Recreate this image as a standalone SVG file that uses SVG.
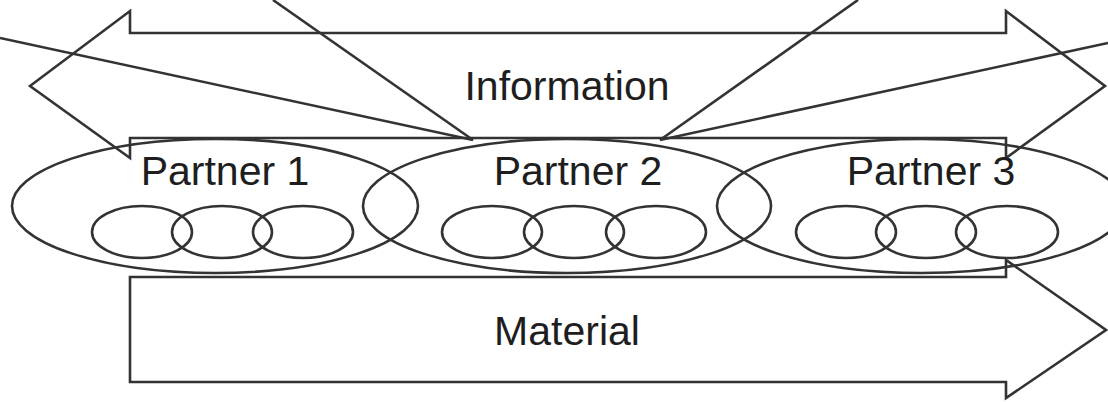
<svg xmlns="http://www.w3.org/2000/svg" width="1108" height="402" viewBox="0 0 1108 402">
<style>
.s{fill:none;stroke:#333;stroke-width:2.6;stroke-linejoin:miter}
.t{font-family:"Liberation Sans",Arial,sans-serif;font-size:41px;fill:#1e1e1e;text-anchor:middle}
</style>
<rect width="1108" height="402" fill="#fff"/>
<g id="information">
<polygon class="s" points="30,86 130,11 130,33 1006,33 1006,11 1105,86 1006,158 1006,138 130,138 130,158"/>
<text class="t" x="567" y="100">Information</text>
</g>
<g id="material">
<polygon class="s" points="130,277 1006,277 1006,260 1106,330 1006,398 1006,382 130,382"/>
<text class="t" x="567" y="345">Material</text>
</g>
<g id="partner1">
<ellipse class="s" cx="215" cy="206" rx="203" ry="67"/>
<ellipse class="s" cx="142" cy="232" rx="50" ry="26"/>
<ellipse class="s" cx="222" cy="232" rx="50" ry="26"/>
<ellipse class="s" cx="303" cy="232" rx="50" ry="26"/>
<text class="t" x="225" y="185">Partner 1</text>
</g>
<g id="partner2">
<ellipse class="s" cx="567" cy="206" rx="204" ry="67"/>
<ellipse class="s" cx="492" cy="232" rx="50" ry="26"/>
<ellipse class="s" cx="574" cy="232" rx="50" ry="26"/>
<ellipse class="s" cx="656" cy="232" rx="50" ry="26"/>
<text class="t" x="578" y="185">Partner 2</text>
</g>
<g id="partner3">
<ellipse class="s" cx="921" cy="206" rx="204" ry="67"/>
<ellipse class="s" cx="846" cy="232" rx="50" ry="26"/>
<ellipse class="s" cx="926" cy="232" rx="50" ry="26"/>
<ellipse class="s" cx="1007" cy="232" rx="51" ry="26"/>
<text class="t" x="931" y="185">Partner 3</text>
</g>
<g id="connectors">
<line class="s" x1="0" y1="38" x2="473" y2="140"/>
<line class="s" x1="273" y1="0" x2="473" y2="140"/>
<line class="s" x1="660" y1="140" x2="858" y2="0"/>
<line class="s" x1="660" y1="140" x2="1108" y2="43"/>
</g>
</svg>
